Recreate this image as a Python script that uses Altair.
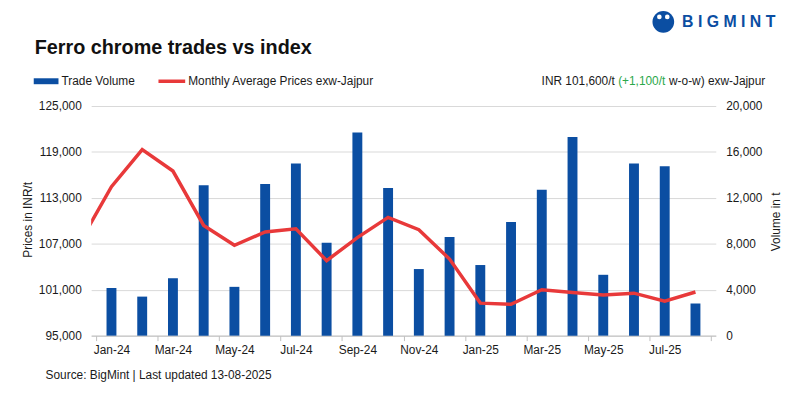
import altair as alt
import pandas as pd

months = ["Jan-24", "Feb-24", "Mar-24", "Apr-24", "May-24", "Jun-24", "Jul-24", "Aug-24",
          "Sep-24", "Oct-24", "Nov-24", "Dec-24", "Jan-25", "Feb-25", "Mar-25", "Apr-25",
          "May-25", "Jun-25", "Jul-25", "Aug-25"]
volume = [4150, 3400, 5000, 13100, 4250, 13200, 15000, 8100, 17700, 12850,
          5800, 8600, 6150, 9900, 12700, 17300, 5300, 15000, 14750, 2800]
prices = [114450, 119300, 116500, 109400, 106800, 108550, 108950, 104800, 107800, 110450,
          108850, 105000, 99250, 99100, 101000, 100650, 100300, 100550, 99500, 100700]
prev_month = "Dec-23"
prev_price = 107400

left_ticks = [95000, 101000, 107000, 113000, 119000, 125000]
right_ticks = [0, 4000, 8000, 12000, 16000, 20000]

BLUE = "#0B4EA2"
RED = "#E8393A"
GREEN = "#2BA84A"
FONT = "Liberation Sans"
TXT = "#1a1a1a"

vol_df = pd.DataFrame({"idx": list(range(len(months))), "month": months, "volume": volume})
price_df = pd.DataFrame({"idx": [-1] + list(range(len(months))),
                         "month": [prev_month] + months,
                         "price": [prev_price] + prices})

xscale = alt.Scale(domain=[-0.5, len(months) - 0.5], nice=False, zero=False)
label_arr = "[" + ",".join("'%s'" % m for m in months) + "]"
num_expr = "format(datum.value, ',')"

bars = alt.Chart(vol_df).mark_bar(size=10, color=BLUE).encode(
    x=alt.X("idx:Q", scale=xscale,
            axis=alt.Axis(orient="bottom", values=list(range(0, len(months), 2)),
                          labelExpr=label_arr + "[datum.value]", ticks=False, domain=False,
                          grid=False, labelPadding=9, labelFontSize=12, labelFont=FONT,
                          labelColor=TXT, title=None)),
    y=alt.Y("volume:Q", scale=alt.Scale(domain=[0, 20000], nice=False),
            axis=alt.Axis(orient="right", values=right_ticks, labelExpr=num_expr, grid=False,
                          ticks=False, domain=False, labelPadding=10, labelFontSize=12,
                          labelFont=FONT, labelColor=TXT, title=None)),
)

line = alt.Chart(price_df).mark_line(clip=True, color=RED, strokeWidth=3.5).encode(
    x=alt.X("idx:Q", scale=xscale,
            axis=alt.Axis(orient="bottom", values=[-0.5 + 2 * k for k in range(len(months) // 2 + 1)],
                          labels=False, ticks=True, tickSize=5, tickColor="#bfbfbf",
                          domain=True, domainColor="#bfbfbf", grid=False, title=None)),
    y=alt.Y("price:Q", scale=alt.Scale(domain=[95000, 125000], nice=False, zero=False),
            axis=alt.Axis(orient="left", values=left_ticks, labelExpr=num_expr, grid=True,
                          gridColor="#d9d9d9", ticks=False, domain=False, labelPadding=10,
                          labelFontSize=12, labelFont=FONT, labelColor=TXT, title=None)),
)

one = pd.DataFrame({"k": [0]})


def txt(s, x, y, size=12, weight="normal", color=TXT, align="left", angle=0):
    return alt.Chart(one).mark_text(
        text=s, font=FONT, fontSize=size, fontWeight=weight, color=color,
        align=align, baseline="middle", angle=angle
    ).encode(x=alt.value(x), y=alt.value(y))


title = txt("Ferro chrome trades vs index", -57, -59, size=20, weight="bold", color="#111111")
leg_rect = alt.Chart(one).mark_rect(color=BLUE).encode(
    x=alt.value(-58), x2=alt.value(-33), y=alt.value(-28), y2=alt.value(-22))
leg_t1 = txt("Trade Volume", -30, -25)
leg_line = alt.Chart(one).mark_rule(color=RED, strokeWidth=3.5).encode(
    x=alt.value(68), x2=alt.value(95), y=alt.value(-25))
leg_t2 = txt("Monthly Average Prices exw-Jajpur", 98, -25)

info1 = txt("INR 101,600/t", 529, -25, align="right")
info2 = txt("(+1,100/t", 580, -25, color=GREEN, align="right")
info3 = txt("w-o-w) exw-Jajpur", 681, -25, align="right")

ytitle_l = txt("Prices in INR/t", -64, 115, align="center", angle=270)
ytitle_r = txt("Volume in t", 692, 117, align="center", angle=270)
source = txt("Source: BigMint | Last updated 13-08-2025", -46, 272)

logo_circle = alt.Chart(one).mark_point(filled=True, color=BLUE, size=480, opacity=1).encode(
    x=alt.value(578), y=alt.value(-85))
logo_head1 = alt.Chart(one).mark_point(filled=True, color="white", size=22, opacity=1).encode(
    x=alt.value(574), y=alt.value(-90))
logo_head2 = alt.Chart(one).mark_point(filled=True, color="white", size=22, opacity=1).encode(
    x=alt.value(582), y=alt.value(-90))
logo_text = txt("B I G M I N T", 597, -85, size=16, weight="bold", color=BLUE)

chart = alt.layer(
    bars, line,
    title, leg_rect, leg_t1, leg_line, leg_t2, info1, info2, info3,
    ytitle_l, ytitle_r, source, logo_circle, logo_head1, logo_head2, logo_text
).resolve_scale(y="independent").resolve_axis(x="independent", y="independent").properties(
    width=631, height=232,
    padding={"left": 84, "top": 97, "right": 77, "bottom": 62},
    autosize=alt.AutoSizeParams(type="none"),
    background="white",
).configure_view(stroke=None)

chart.save("out.html", embed_options={"renderer": "svg", "actions": False})
